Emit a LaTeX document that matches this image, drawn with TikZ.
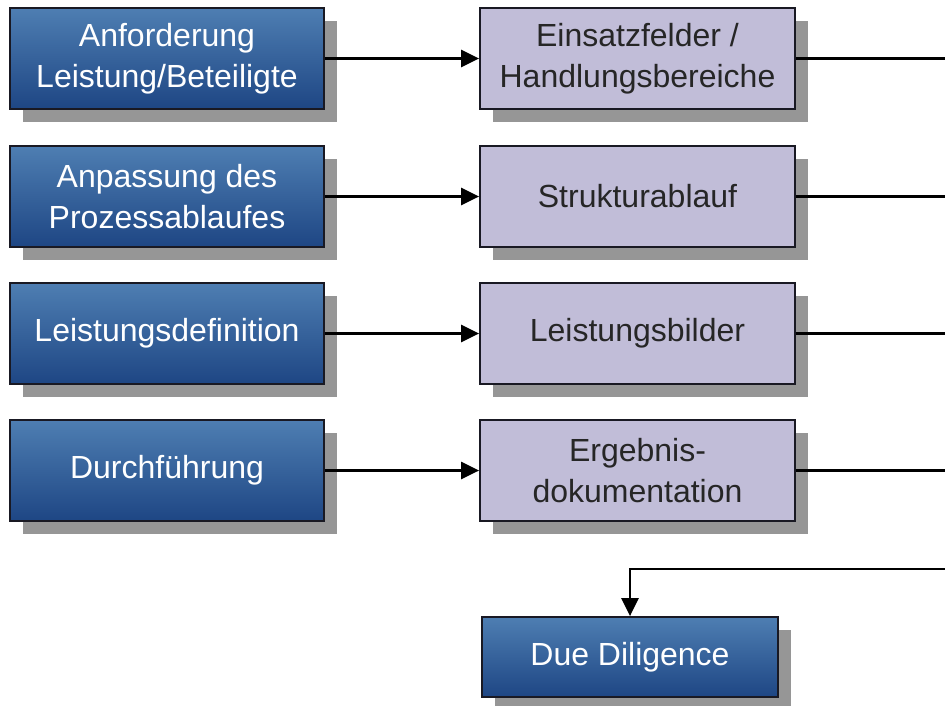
\documentclass[tikz,border=0pt]{standalone}
\usepackage{fontspec}
\setmainfont{Liberation Sans}
\usetikzlibrary{shadows,arrows.meta}
\definecolor{bluetop}{RGB}{78,126,178}
\definecolor{bluebot}{RGB}{30,70,132}
\definecolor{lav}{RGB}{193,189,216}
\definecolor{shad}{RGB}{150,150,150}
\definecolor{edge}{RGB}{25,25,35}
\tikzset{
  boxbase/.style={draw=edge, line width=1.8pt, rectangle, align=center,
    font=\fontsize{32}{41}\selectfont, inner sep=0pt,
    drop shadow={shadow xshift=13pt, shadow yshift=-13pt, fill=shad, opacity=1}},
  bluebox/.style={boxbase, top color=bluetop, bottom color=bluebot, text=white,
    minimum width=314pt, minimum height=101pt},
  lavbox/.style={boxbase, fill=lav, text=black!85,
    minimum width=315pt, minimum height=101pt},
  conn/.style={line width=2.4pt, draw=black},
  arr/.style={conn, -{Triangle[length=18pt,width=17pt]}}
}
\begin{document}
\begin{tikzpicture}[x=1pt,y=-1pt]
\useasboundingbox (0,0) rectangle (945,705);
\node[bluebox] (b1) at (167,58.5) {Anforderung\\Leistung/Beteiligte};
\node[bluebox] (b2) at (167,196.5) {Anpassung des\\Prozessablaufes};
\node[bluebox] (b3) at (167,333.5) {Leistungsdefinition};
\node[bluebox] (b4) at (167,470.5) {Durchführung};
\node[lavbox] (p1) at (637.5,58.5) {Einsatzfelder /\\Handlungsbereiche};
\node[lavbox] (p2) at (637.5,196.5) {Strukturablauf};
\node[lavbox] (p3) at (637.5,333.5) {Leistungsbilder};
\node[lavbox] (p4) at (637.5,470.5) {Ergebnis-\\dokumentation};
\node[bluebox, minimum width=296pt, minimum height=80pt] (dd) at (630,657) {Due Diligence};
\coordinate (e1) at (945,58.5);
\coordinate (e2) at (945,196.5);
\coordinate (e3) at (945,333.5);
\coordinate (e4) at (945,470.5);
\coordinate (e5) at (945,569);
\foreach \i in {1,2,3,4} {
  \draw[arr] (b\i) -- (p\i);
  \draw[conn] (p\i) -- (e\i);
}
\draw[arr] (e5) -| (dd.north);
\end{tikzpicture}
\end{document}
